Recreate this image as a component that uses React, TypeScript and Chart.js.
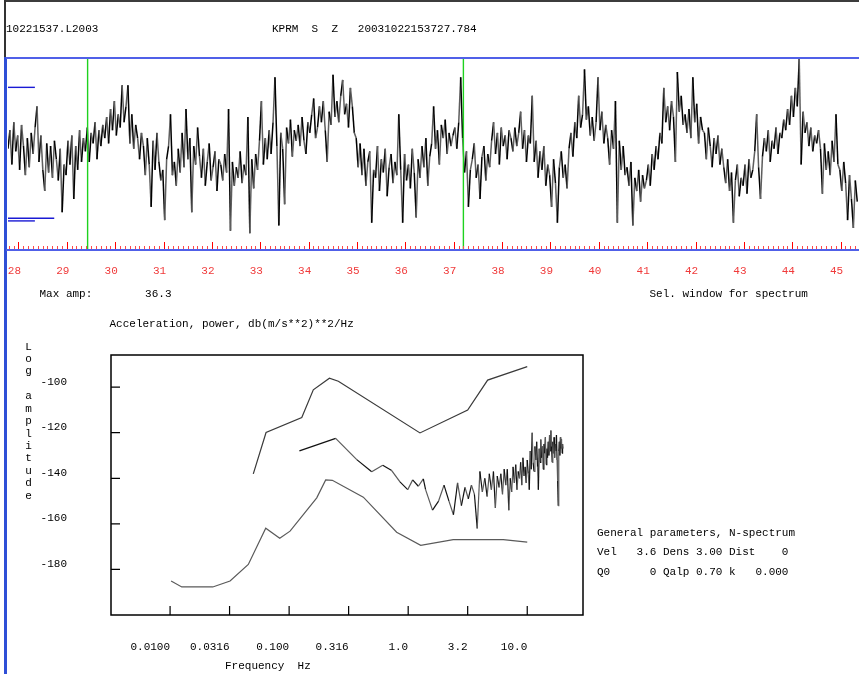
import React, { useEffect, useRef } from 'react';
import { Chart, registerables } from 'chart.js';

Chart.register(...registerables);

const FONT = '"Liberation Mono", "DejaVu Sans Mono", monospace';

// ---------- header / captions ----------
const FILE_NAME = '10221537.L2003';
const STATION_LINE = 'KPRM  S  Z   20031022153727.784';
const MAX_AMP_LINE = 'Max amp:        36.3';
const SEL_WINDOW_TEXT = 'Sel. window for spectrum';
const SPEC_TITLE = 'Acceleration, power, db(m/s**2)**2/Hz';
const SPEC_Y_TITLE = 'Log amplitude';
const SPEC_X_TITLE = 'Frequency  Hz';
const PARAM_LINES = [
  'General parameters, N-spectrum',
  'Vel   3.6 Dens 3.00 Dist    0',
  'Q0      0 Qalp 0.70 k   0.000',
];

// ---------- seismogram ----------
const SEIS_T0 = 27.784; // s, first sample
const SEIS_DT = 0.04; // s, sample interval
const SEIS_T_END = 45.38;
const SEIS_MAX_AMP = 36.3;
const SEIS_AMP = [
  2, 9, -4, 12, 1, 7, -6, 11, 3, -8,
  6, -5, 8, 0, 10, 18, -3, 7, -6, -14,
  4, -7, 3, -9, 5, -2, -10, 2, -22, -4,
  -8, 5, -4, 7, -17, 3, -6, 9, -3, 6,
  1, 10, -3, 8, 4, 12, -2, 9, 3, 11,
  6, 14, 4, 17, 9, 20, 7, 15, 10, 26,
  12, 18, 26, 4, 15, 2, 11, 6, -2, 8,
  3, -8, 6, -4, -20, 5, -6, 8, -3, -10,
  -6, -25, -2, 3, 15, -8, -3, -12, 2, -7,
  8, -5, 17, -2, 6, -22, 3, -4, 10, -1,
  -9, 2, -12, -3, 4, -10, -5, 1, -14, -2,
  -4, -10, 0, -7, 17, -29, -3, -12, -5, -9,
  1, -11, -4, -8, 14, -30, -2, -13, 0, -6,
  5, 20, -4, 6, -2, 9, 0, 12, 29, 3,
  -27, 8, 2, -19, 10, 4, 13, -1, 9, 5,
  11, 3, 14, 5, 0, 12, 8, 15, 21, 6,
  10, 18, 12, 20, 9, -3, 16, 11, 30, 14,
  20, 12, 22, 28, 15, 19, 10, 25, 18, 8,
  6, -5, 4, -8, 2, -12, -3, 1, -26, -6,
  -9, 3, -14, -2, -7, 2, -16, -5, 0, -11,
  -3, -8, 15, -6, -26, 0, -10, -4, -13, 2,
  -7, -24, -2, -9, 3, -5, 6, -12, -1, 4,
  18, 2, 9, -4, 11, 6, 13, 0, 8, 3,
  7, 10, 2, 12, 29, 6, -7, 1, -20, -6,
  -2, 4, -9, -4, -17, -1, 3, -10, 0, -5,
  5, 12, 0, 8, -4, 10, 3, 7, -2, 9,
  6, 1, 10, 3, 8, 16, 2, 9, -3, 7,
  4, 22, -3, 5, -9, 1, -6, 3, -12, -4,
  -8, -20, -2, -11, -26, -5, 1, -9, -4, -13,
  2, 8, -1, 12, 6, 22, 10, 15, 32, 13,
  18, 7, 14, 5, 12, 29, 9, 16, 4, 11,
  6, -4, 9, 2, 20, -26, 5, -6, 3, -8,
  -5, -12, -3, -27, -9, -14, -6, -18, -8, -13,
  -10, -4, -12, 0, -6, 3, -2, 8, 4, 25,
  12, 18, 9, 20, 14, -3, 31, 16, 22, 11,
  15, 8, 17, 6, 29, 12, 19, 4, 14, 9,
  8, -2, 10, 3, -5, 6, 0, 7, -4, 2,
  -5, -11, -2, -14, -7, -26, -10, -4, -16, -9,
  -12, -4, -15, -2, -9, -6, 1, 15, -5, -17,
  -1, 6, 1, 9, -3, 5, 2, 10, 0, 8,
  6, 13, 9, 17, 11, 22, 14, 25, 18, 36,
  -4, 16, 8, 12, 3, 10, 1, 7, 4, 9,
  2, -15, 4, -6, 1, -8, 5, -3, 15, -4,
  -6, -14, -3, -11, -25, -8, -17, -28, -10, -18,
];
const SEIS_TICK_SECONDS = [28, 29, 30, 31, 32, 33, 34, 35, 36, 37, 38, 39, 40, 41, 42, 43, 44, 45];
const SEIS_TICK_LABELS = ['28', '29', '30', '31', '32', '33', '34', '35', '36', '37', '38', '39', '40', '41', '42', '43', '44', '45'];
const SEIS_WINDOW_MARKS = [29.43, 37.2];
const SEIS_CLIP_LEVELS = [25.2, -24.3, -25.3];
const SEIS_CLIP_ENDS = [28.34, 28.74, 28.34];

// ---------- spectrum ----------
const FREQ_TICKS = [0.01, 0.0316, 0.1, 0.316, 1, 3.16, 10];
const FREQ_TICK_LABELS = ['0.0100', '0.0316', '0.100', '0.316', '1.0', '3.2', '10.0'];
const DB_TICKS = [-100, -120, -140, -160, -180];
const FREQ_MIN = 0.00319;
const FREQ_MAX = 29.4;
const DB_MIN = -200;
const DB_MAX = -85.9;

const NOISE_HIGH_F = [0.05, 0.064, 0.1277, 0.1596, 0.218, 0.259, 1.256, 3.16, 4.65, 10];
const NOISE_HIGH_DB = [-138.1, -119.9, -113.3, -101.2, -96.1, -97.4, -120.1, -110.1, -96.9, -91.0];

const NOISE_LOW_F = [0.0102, 0.01254, 0.02284, 0.0319, 0.0454, 0.0636, 0.0834, 0.1018, 0.1706, 0.2028, 0.2306, 0.42, 0.8, 1.274, 2.39, 6.29, 10];
const NOISE_LOW_DB = [-185.1, -187.7, -187.7, -185.1, -177.8, -161.9, -166.3, -163.2, -148.6, -140.7, -140.9, -148.3, -163.7, -169.4, -166.9, -166.9, -168.0];

const SIGNAL_LOW_F = [0.122, 0.246, 0.37, 0.494, 0.611, 0.727, 0.853, 0.991, 1.09, 1.217, 1.34];
const SIGNAL_LOW_DB = [-128.0, -122.5, -131.8, -137.1, -134.3, -136.6, -141.6, -145.0, -140.7, -143.5, -140.3];
const SIGNAL_BIN_START = 1.4; // Hz
const SIGNAL_BIN_STEP = 0.2; // Hz
const SIGNAL_BIN_DB = [
  -145, -154, -150, -143, -150, -156, -142, -152, -144, -149,
  -143, -147, -162, -137, -146, -140, -148, -138, -145, -137,
  -153, -139, -144, -138, -147, -136, -143, -136, -154, -140,
  -146, -135, -142, -134, -145, -137, -140, -133, -143, -131,
  -139, -135, -142, -132, -138, -145, -128, -136, -120, -133,
  -137, -126, -132, -124, -135, -145, -127, -133, -123, -131,
  -126, -136, -125, -129, -122, -134, -127, -131, -124, -130,
  -121, -128, -119, -126, -133, -124, -129, -122, -131, -125,
  -128, -121, -132, -141, -152, -128, -124, -130, -122, -127,
  -123, -129, -125, -127,
];

const pairs = (xs: number[], ys: number[]) => xs.map((x, i) => ({ x, y: ys[i] }));

const seisDecor = {
  id: 'seisDecor',
  afterDatasetsDraw(chart: any) {
    const { ctx, chartArea: a, scales } = chart;
    const x = scales.x;
    ctx.save();
    const lo = Math.ceil(x.min * 10);
    const hi = Math.floor(x.max * 10);
    for (let k = lo; k <= hi; k++) {
      const px = Math.round(x.getPixelForValue(k / 10)) + 0.5;
      const major = k % 10 === 0;
      ctx.strokeStyle = major ? '#ff0000' : '#ff4848';
      ctx.lineWidth = 1;
      ctx.beginPath();
      ctx.moveTo(px, a.bottom);
      ctx.lineTo(px, a.bottom - (major ? 8 : 4));
      ctx.stroke();
    }
    ctx.strokeStyle = '#5060e8';
    ctx.lineWidth = 2;
    ctx.beginPath();
    ctx.moveTo(a.left - 2, a.top);
    ctx.lineTo(a.right, a.top);
    ctx.moveTo(a.left - 2, a.bottom);
    ctx.lineTo(a.right, a.bottom);
    ctx.stroke();
    ctx.restore();
  },
};

const specDecor = {
  id: 'specDecor',
  afterDatasetsDraw(chart: any) {
    const { ctx, chartArea: a, scales } = chart;
    ctx.save();
    ctx.strokeStyle = '#000';
    ctx.lineWidth = 1.5;
    ctx.strokeRect(a.left, a.top, a.right - a.left, a.bottom - a.top);
    ctx.lineWidth = 1.2;
    ctx.beginPath();
    for (const v of DB_TICKS) {
      const py = scales.y.getPixelForValue(v);
      ctx.moveTo(a.left, py);
      ctx.lineTo(a.left + 9, py);
    }
    for (const v of FREQ_TICKS) {
      const px = scales.x.getPixelForValue(v);
      ctx.moveTo(px, a.bottom);
      ctx.lineTo(px, a.bottom - 9);
    }
    ctx.stroke();
    ctx.restore();
  },
};

const altColor = (dark: string, light: string) => (c: any) => (c.p0DataIndex % 2 ? light : dark);

const noPad = (s: any) => {
  s.paddingLeft = 0;
  s.paddingRight = 0;
  s.paddingTop = 0;
  s.paddingBottom = 0;
};

export default function App() {
  const seisRef = useRef<HTMLCanvasElement>(null);
  const specRef = useRef<HTMLCanvasElement>(null);

  useEffect(() => {
    const trace = SEIS_AMP.map((v, i) => ({ x: SEIS_T0 + i * SEIS_DT, y: v }));
    const windowSets = SEIS_WINDOW_MARKS.map((t) => ({
      data: [{ x: t, y: -SEIS_MAX_AMP }, { x: t, y: SEIS_MAX_AMP }],
      borderColor: '#1ed21e',
      borderWidth: 1.4,
      pointRadius: 0,
      order: -1,
    }));
    const clipSets = SEIS_CLIP_LEVELS.map((lvl, i) => ({
      data: [{ x: SEIS_T0, y: lvl }, { x: SEIS_CLIP_ENDS[i], y: lvl }],
      borderColor: '#1a1ad4',
      borderWidth: 1.4,
      pointRadius: 0,
      order: -1,
    }));

    const seis = new Chart(seisRef.current as HTMLCanvasElement, {
      type: 'line',
      data: {
        datasets: [
          ...windowSets,
          ...clipSets,
          {
            data: trace,
            borderColor: '#000',
            borderWidth: 1.5,
            pointRadius: 0,
            order: 1,
            segment: { borderColor: altColor('#000000', '#5e5e5e') },
          },
        ] as any,
      },
      options: {
        animation: false,
        responsive: false,
        maintainAspectRatio: false,
        devicePixelRatio: 1,
        events: [],
        layout: { padding: { left: 8, right: 0, top: 58, bottom: 0 } },
        plugins: { legend: { display: false }, tooltip: { enabled: false } },
        scales: {
          x: {
            type: 'linear',
            min: SEIS_T0,
            max: SEIS_T_END,
            grid: { display: false },
            border: { display: false },
            afterBuildTicks: (s: any) => {
              s.ticks = SEIS_TICK_SECONDS.map((v) => ({ value: v }));
            },
            afterFit: (s: any) => {
              s.height = 50;
              noPad(s);
            },
            ticks: {
              color: '#f03a3a',
              font: { family: FONT, size: 11 },
              padding: 6,
              labelOffset: -4,
              autoSkip: false,
              maxRotation: 0,
              callback: (_v: any, i: number) => SEIS_TICK_LABELS[i],
            },
          },
          y: { display: false, min: -SEIS_MAX_AMP, max: SEIS_MAX_AMP },
        },
      } as any,
      plugins: [seisDecor],
    });

    const signal = [
      ...pairs(SIGNAL_LOW_F, SIGNAL_LOW_DB),
      ...SIGNAL_BIN_DB.map((v, i) => ({ x: SIGNAL_BIN_START + i * SIGNAL_BIN_STEP, y: v })),
    ];

    const spec = new Chart(specRef.current as HTMLCanvasElement, {
      type: 'line',
      data: {
        datasets: [
          {
            data: pairs(NOISE_HIGH_F, NOISE_HIGH_DB),
            borderColor: '#3a3a3a',
            borderWidth: 1.2,
            pointRadius: 0,
          },
          {
            data: signal,
            borderColor: '#111',
            borderWidth: 1.2,
            pointRadius: 0,
            segment: { borderColor: altColor('#111111', '#5a5a5a') },
          },
          {
            data: pairs(NOISE_LOW_F, NOISE_LOW_DB),
            borderColor: '#5a5a5a',
            borderWidth: 1.2,
            pointRadius: 0,
          },
        ] as any,
      },
      options: {
        animation: false,
        responsive: false,
        maintainAspectRatio: false,
        devicePixelRatio: 1,
        events: [],
        layout: { padding: { left: 0, right: 17, top: 55, bottom: 0 } },
        plugins: { legend: { display: false }, tooltip: { enabled: false } },
        scales: {
          x: {
            type: 'logarithmic',
            min: FREQ_MIN,
            max: FREQ_MAX,
            grid: { display: false },
            border: { display: false },
            afterBuildTicks: (s: any) => {
              s.ticks = FREQ_TICKS.map((v) => ({ value: v }));
            },
            afterFit: (s: any) => {
              s.height = 59;
              noPad(s);
            },
            ticks: {
              color: '#000',
              font: { family: FONT, size: 11 },
              padding: 17,
              align: 'end',
              autoSkip: false,
              maxRotation: 0,
              callback: (_v: any, i: number) => FREQ_TICK_LABELS[i],
            },
          },
          y: {
            type: 'linear',
            min: DB_MIN,
            max: DB_MAX,
            grid: { display: false },
            border: { display: false },
            afterBuildTicks: (s: any) => {
              s.ticks = DB_TICKS.map((v) => ({ value: v }));
            },
            afterFit: (s: any) => {
              s.width = 111;
              noPad(s);
            },
            ticks: {
              color: '#000',
              font: { family: FONT, size: 11 },
              padding: 36,
              labelOffset: -5.5,
              callback: (v: any) => String(v),
            },
          },
        },
      } as any,
      plugins: [specDecor],
    });

    return () => {
      seis.destroy();
      spec.destroy();
    };
  }, []);

  const text = (left: number, top: number, s: string, extra: any = {}) => (
    <div
      style={{
        position: 'absolute',
        left,
        top,
        font: `11px ${FONT}`,
        lineHeight: '13px',
        whiteSpace: 'pre',
        color: '#000',
        ...extra,
      }}
    >
      {s}
    </div>
  );

  return (
    <div
      style={{
        position: 'fixed',
        left: 0,
        top: 0,
        width: 859,
        height: 674,
        background: '#fff',
        overflow: 'hidden',
      }}
    >
      <div style={{ position: 'absolute', left: 4, top: 0, width: 855, height: 2, background: '#3c3c3c' }} />
      <div style={{ position: 'absolute', left: 4, top: 0, width: 2, height: 57, background: '#333' }} />
      <div style={{ position: 'absolute', left: 4, top: 57, width: 3, height: 617, background: '#2f4fd6' }} />

      <canvas ref={seisRef} width={859} height={300} style={{ position: 'absolute', left: 0, top: 0 }} />
      <canvas ref={specRef} width={600} height={374} style={{ position: 'absolute', left: 0, top: 300 }} />

      {text(6, 23, FILE_NAME)}
      {text(272, 23, STATION_LINE)}
      {text(39.5, 287.5, MAX_AMP_LINE)}
      {text(649.5, 287.5, SEL_WINDOW_TEXT)}
      {text(109.5, 318, SPEC_TITLE)}
      {text(225, 660, SPEC_X_TITLE)}
      {PARAM_LINES.map((l, i) => (
        <React.Fragment key={i}>{text(597, 526.5 + i * 19.6, l)}</React.Fragment>
      ))}
      <div style={{ position: 'absolute', left: 22, top: 340.5, width: 13, textAlign: 'center', font: `11px ${FONT}`, lineHeight: '12.44px' }}>
        {SPEC_Y_TITLE.split('').map((ch, i) => (
          <div key={i}>{ch === ' ' ? '\u00a0' : ch}</div>
        ))}
      </div>
    </div>
  );
}
